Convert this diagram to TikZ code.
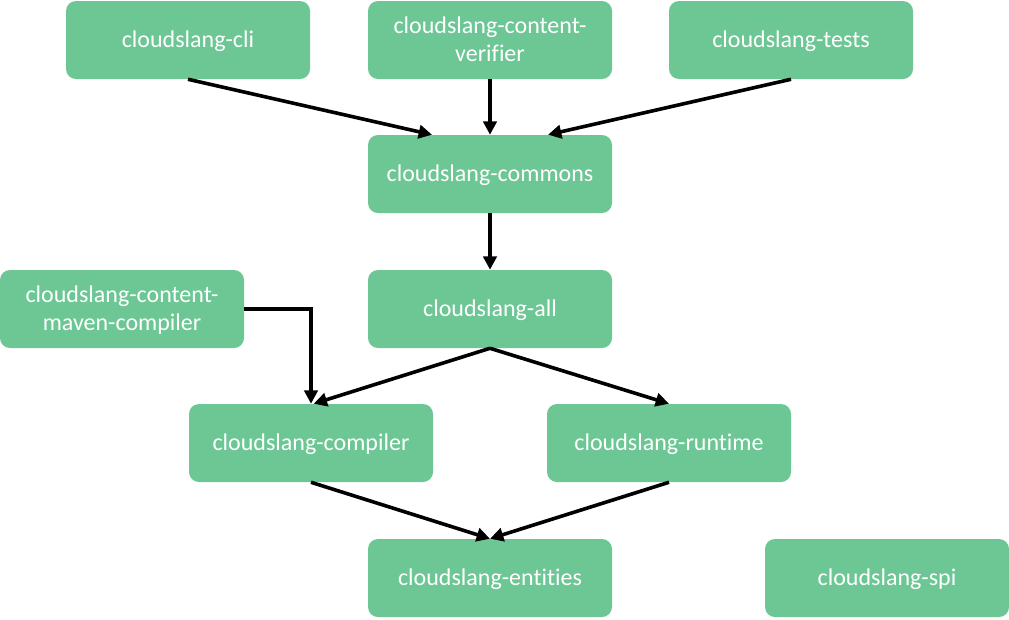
\documentclass[tikz,border=0pt]{standalone}
\usepackage{fontspec}
\setmainfont{Carlito}[Ligatures=NoCommon]
\usetikzlibrary{arrows.meta}
\definecolor{boxgreen}{HTML}{6CC794}
\tikzset{
  module/.style={rectangle, rounded corners=7.5pt, fill=boxgreen, text=white,
    minimum width=183pt, minimum height=58.5pt, inner sep=0pt, align=center,
    text depth=1.5pt, font=\fontsize{18}{21}\selectfont},
  dep/.style={line width=2.7pt, -{Triangle[length=10pt,width=10pt]}}
}
\begin{document}
\begin{tikzpicture}[x=0.75pt, y=-0.75pt]
	\useasboundingbox (0,0) rectangle (1009,619);
	\node[module] (cli) at (188, 40) {cloudslang-cli};
	\node[module] (verifier) at (490, 40) {cloudslang-content-\\verifier};
	\node[module] (tests) at (791, 40) {cloudslang-tests};
	\node[module] (commons) at (490, 174) {cloudslang-commons};
	\node[module] (maven) at (122, 309) {cloudslang-content-\\maven-compiler};
	\node[module] (all) at (490, 309) {cloudslang-all};
	\node[module] (compiler) at (311, 443) {cloudslang-compiler};
	\node[module] (runtime) at (669, 443) {cloudslang-runtime};
	\node[module] (entities) at (490, 578) {cloudslang-entities};
	\node[module] (spi) at (887, 578) {cloudslang-spi};
	\draw[dep] (cli.south) -- ([xshift=-43.5pt]commons.north);
	\draw[dep] (verifier.south) -- (commons.north);
	\draw[dep] (tests.south) -- ([xshift=43.5pt]commons.north);
	\draw[dep] (commons.south) -- (all.north);
	\draw[dep] (maven.east) -| (compiler.north);
	\draw[dep] (all.south) -- ([xshift=2pt]compiler.north);
	\draw[dep] (all.south) -- (runtime.north);
	\draw[dep] (compiler.south) -- (entities.north);
	\draw[dep] (runtime.south) -- (entities.north);
\end{tikzpicture}
\end{document}
